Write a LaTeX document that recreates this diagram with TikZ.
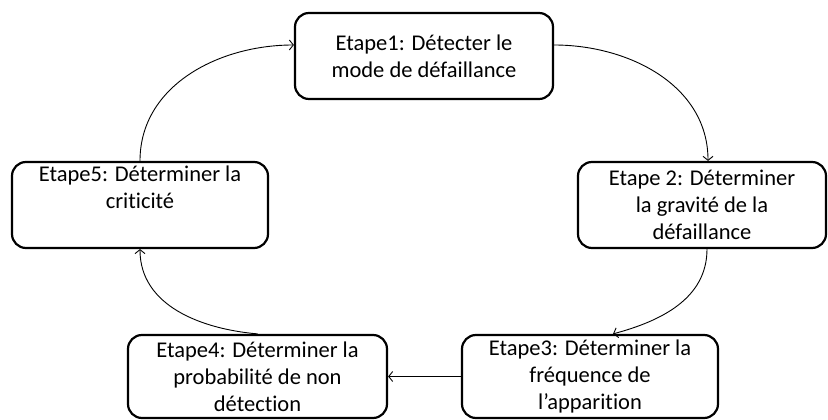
\documentclass[tikz,border=0pt]{standalone}
\usepackage{fontspec}
\setmainfont{Carlito}[Ligatures=NoCommon]
\usetikzlibrary{arrows.meta}
\usetikzlibrary{positioning}

\tikzset{
  etape/.style={draw, line width=2.2pt, rounded corners=14pt, align=center,
    inner sep=0pt, font=\fontsize{22.5}{27}\selectfont},
  fleche/.style={-{Straight Barb[length=4pt,width=10pt]}, line width=0.9pt}
}

\begin{document}
\begin{tikzpicture}[x=1pt, y=1pt]
        % Frame
        \useasboundingbox (0,0) rectangle (828,420);

        % Steps
        \node[etape, minimum width=258pt, minimum height=86pt] (s1) at (424,364)
            {Etape1: Détecter le\\mode de défaillance};
        \node[etape, minimum width=248pt, minimum height=86pt] (s2) at (702,215)
            {Etape 2: Déterminer\\la gravité de la\\défaillance};
        \node[etape, minimum width=256pt, minimum height=83pt] (s3) at (590,43.5)
            {Etape3: Déterminer la\\fréquence de\\l’apparition};
        \node[etape, minimum width=259pt, minimum height=83pt] (s4) at (257.5,43.5)
            {Etape4: Déterminer la\\probabilité de non\\détection};
        \node[etape, minimum width=256pt, minimum height=86pt] (s5) at (140,215)
            {Etape5: Déterminer la\\criticité\\\strut};

        % Cycle
        \draw[fleche] ([yshift=11pt]s1.east) to[out=0, in=90] ([xshift=6pt]s2.north); % 1 -> 2
        \draw[fleche] ([xshift=5pt]s2.south) to[out=-90, in=15] ([xshift=23pt]s3.north); % 2 -> 3
        \draw[fleche] (s3.west) -- (s4.east); % 3 -> 4
        \draw[fleche] (s4.north) to[out=175, in=-90] (s5.south); % 4 -> 5
        \draw[fleche] (s5.north) to[out=90, in=180] ([yshift=11pt]s1.west); % 5 -> 1
\end{tikzpicture}
\end{document}
